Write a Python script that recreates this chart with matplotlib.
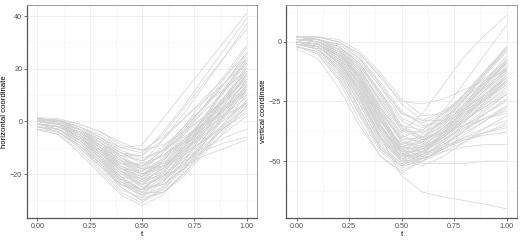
import numpy as np
import matplotlib
matplotlib.use("Agg")
import matplotlib.pyplot as plt

plt.rcParams["font.family"] = ["Liberation Sans", "DejaVu Sans"]

t = [0.0, 0.1, 0.2, 0.3, 0.4, 0.5, 0.6, 0.7, 0.8, 0.9, 1.0]

# horizontal coordinate curves
horiz = [
    [1, 0.5, -2, -6, -10, -9, 1, 11, 21, 31, 41],
    [0.5, 0, -3, -8, -13, -13, -4, 6, 17, 28, 39],
    [0, -0.5, -4, -10, -16, -16, -7, 3, 14, 25, 37],
    [1.5, 1, -1, -4, -9, -11, -6, 1, 8, 15, 22],
    [0, -1, -4, -9, -15, -17, -11, -3, 6, 15, 25],
    [-1, -2, -6, -12, -18, -19, -12, -3, 6, 15, 24],
    [-2, -3, -8, -15, -22, -24, -17, -8, 2, 12, 22],
    [-1, -2, -7, -14, -21, -23, -18, -10, -1, 8, 18],
    [0, -1, -5, -11, -17, -20, -16, -9, -2, 5, 12],
    [1, 0, -3, -8, -14, -17, -13, -7, -1, 5, 10],
    [-2, -4, -10, -18, -26, -29, -23, -13, -2, 9, 20],
    [-1, -3, -9, -17, -25, -30, -26, -17, -6, 5, 16],
    [-3, -5, -12, -20, -28, -32, -28, -19, -8, 3, 14],
    [0, -1, -6, -13, -22, -28, -26, -18, -8, 2, 12],
    [-1, -2, -6, -13, -21, -27, -27, -21, -12, -3, 6],
    [0, -1, -4, -9, -15, -18, -16, -12, -7, -2, 3],
    [0, -1, -5, -11, -18, -22, -21, -17, -13, -10, -7],
    [-1, -2, -6, -12, -19, -23, -20, -15, -11, -8, -6],
    [1, 0, -3, -8, -13, -15, -11, -6, -1, 3, 6],
    [-1, -2, -5, -11, -18, -21, -15, -7, 1, 9, 16],
    [0, -1, -4, -10, -17, -21, -16, -9, -1, 7, 15],
    [-2, -3, -7, -13, -20, -24, -21, -14, -5, 4, 13],
    [1, 0.5, -2, -6, -12, -15, -10, -2, 6, 13, 19],
    [0, -1, -5, -12, -20, -25, -21, -13, -4, 5, 14],
    [-1, -2, -7, -15, -24, -28, -22, -12, -1, 10, 21],
    [0, -1, -4, -9, -16, -20, -17, -11, -4, 3, 9],
    [-2, -4, -9, -16, -24, -27, -21, -12, -3, 6, 15],
    [1, 0, -2, -7, -13, -18, -17, -13, -7, -1, 5],
    [0, -1, -3, -7, -12, -16, -13, -7, 0, 6, 11],
    [-1, -1, -4, -10, -19, -24, -19, -10, 0, 10, 19],
    [0.5, 0, -3, -7, -12, -13, -7, 1, 9, 17, 26],
    [-1, -2, -6, -12, -20, -22, -15, -5, 5, 15, 26],
    [0, -1, -5, -11, -18, -21, -14, -4, 6, 17, 28],
    [-2, -3, -8, -16, -25, -30, -27, -20, -11, -1, 8],
    [-3, -5, -11, -19, -27, -31, -25, -15, -4, 7, 18],
    [0, -1, -4, -8, -14, -18, -17, -14, -10, -6, -3],
    [1, 0.5, -1, -4, -8, -11, -9, -4, 2, 8, 14],
    [-1, -2, -6, -13, -21, -26, -23, -16, -8, 0, 8],
    [0, -1, -5, -10, -16, -18, -12, -4, 4, 12, 20],
    [-1, -2, -5, -10, -16, -19, -14, -7, 1, 10, 18],
    [0.5, 0, -2, -5, -10, -12, -5, 5, 15, 25, 35],
    [-1, -2, -6, -13, -22, -26, -20, -11, -1, 9, 19],
    [0, -1, -4, -9, -15, -19, -15, -8, 0, 8, 16],
    [-2, -3, -7, -14, -23, -29, -27, -20, -10, 0, 10],
    [1, 0, -3, -9, -17, -22, -19, -12, -3, 6, 15],
    [-1, -2, -5, -11, -19, -24, -22, -16, -9, -2, 4],
    [0, -1, -4, -10, -18, -23, -18, -9, 2, 13, 23],
    [-1, -3, -8, -15, -23, -26, -19, -9, 2, 13, 24],
    [0, -1, -5, -11, -19, -25, -24, -18, -10, -2, 7],
    [1, 0, -2, -6, -11, -14, -11, -5, 2, 9, 17],
    [-2, -4, -10, -17, -24, -26, -20, -10, 1, 12, 23],
    [0, -1, -4, -9, -15, -17, -13, -8, -3, 2, 7],
    [-1, -2, -7, -14, -22, -26, -24, -18, -11, -4, 2],
    [-3, -4, -9, -16, -24, -28, -25, -17, -7, 3, 13],
    [0, -1, -3, -8, -14, -17, -11, -2, 8, 18, 29],
    [-1, -2, -6, -12, -19, -22, -17, -10, -2, 6, 13],
    [1, 0, -3, -8, -15, -20, -18, -11, -3, 5, 12],
    [0, -1, -6, -14, -23, -27, -23, -15, -6, 3, 11],
    [-1, -2, -6, -11, -17, -20, -17, -11, -5, 1, 7],
    [0, -1, -4, -10, -17, -20, -15, -8, 0, 8, 17],
]

# vertical coordinate curves
vert = [
    [1, 1, -3, -12, -28, -38, -30, -18, -6, 3, 11],
    [2, 2, 0, -5, -15, -25, -26, -24, -20, -16, -12],
    [0, -1, -6, -18, -33, -43, -40, -32, -22, -12, -3],
    [1, 0, -5, -15, -30, -40, -37, -30, -22, -15, -8],
    [-1, -3, -10, -24, -40, -48, -44, -36, -28, -20, -13],
    [-2, -5, -15, -30, -45, -52, -48, -42, -35, -28, -22],
    [0, -2, -8, -20, -36, -45, -42, -36, -30, -24, -18],
    [2, 1, -3, -11, -25, -37, -38, -33, -26, -19, -12],
    [1, 0, -4, -13, -28, -42, -45, -40, -33, -26, -20],
    [0, -1, -6, -17, -33, -46, -47, -43, -38, -33, -28],
    [-1, -3, -11, -26, -43, -51, -47, -41, -36, -32, -29],
    [-3, -7, -19, -35, -48, -55, -50, -44, -40, -38, -36],
    [1, 0, -4, -12, -24, -36, -40, -38, -35, -32, -30],
    [0, -1, -7, -19, -35, -47, -49, -46, -44, -43, -43],
    [1, 0, -5, -15, -31, -46, -51, -51, -51, -50, -50],
    [0, -2, -8, -22, -40, -56, -63, -65, -66.5, -68, -70],
    [2, 2, 1, -4, -13, -24, -31, -30, -24, -16, -8],
    [1, 1, -2, -9, -21, -35, -40, -35, -26, -16, -6],
    [0, -1, -5, -16, -32, -44, -42, -34, -24, -13, -2],
    [-1, -2, -8, -21, -37, -47, -45, -38, -28, -18, -8],
    [-2, -4, -13, -29, -45, -52, -47, -38, -28, -18, -9],
    [0, -1, -6, -18, -35, -47, -48, -42, -34, -25, -16],
    [1, 0, -4, -14, -30, -44, -46, -40, -31, -22, -13],
    [-1, -2, -9, -23, -40, -49, -46, -40, -33, -27, -21],
    [2, 1, -2, -9, -21, -33, -38, -34, -27, -19, -10],
    [0, -1, -6, -17, -34, -49, -52, -48, -42, -36, -31],
    [-1, -3, -11, -26, -42, -50, -49, -45, -41, -38, -35],
    [1, 0, -3, -11, -25, -39, -43, -38, -30, -22, -14],
    [0, -1, -5, -16, -33, -45, -44, -37, -27, -17, -7],
    [2, 2, 0, -6, -18, -30, -34, -30, -22, -13, -3],
    [1, 0, -4, -15, -32, -43, -39, -29, -17, -5, 7],
    [0, -1, -7, -20, -37, -46, -43, -35, -26, -17, -9],
    [-2, -5, -16, -33, -48, -54, -50, -43, -37, -32, -27],
    [1, 1, -2, -8, -19, -30, -33, -29, -23, -17, -11],
    [0, -1, -5, -14, -29, -42, -44, -39, -33, -27, -22],
    [-1, -2, -8, -21, -38, -48, -47, -44, -41, -39, -38],
    [2, 1, -1, -7, -17, -29, -35, -34, -29, -23, -17],
    [0, -2, -9, -24, -41, -50, -47, -39, -30, -21, -12],
    [1, 0, -3, -10, -22, -36, -41, -38, -31, -24, -17],
    [-1, -3, -12, -28, -44, -51, -49, -45, -40, -36, -33],
    [1, 0, -4, -13, -29, -41, -40, -33, -24, -14, -4],
    [0, -1, -6, -18, -35, -46, -45, -39, -32, -24, -16],
    [-1, -3, -10, -25, -41, -49, -46, -39, -31, -23, -15],
    [2, 1, -2, -10, -23, -37, -41, -37, -29, -20, -11],
    [0, -2, -8, -22, -39, -48, -46, -41, -35, -30, -25],
    [1, 0, -3, -12, -27, -41, -44, -40, -32, -23, -14],
    [-2, -4, -14, -31, -46, -53, -49, -41, -33, -25, -18],
    [0, -1, -5, -15, -31, -44, -45, -40, -33, -26, -19],
    [1, 1, -2, -9, -22, -35, -37, -31, -22, -12, -2],
    [0, -1, -7, -20, -37, -48, -49, -45, -39, -33, -27],
    [-1, -2, -9, -23, -40, -50, -50, -46, -42, -38, -34],
    [2, 1, -1, -7, -19, -32, -36, -32, -25, -17, -9],
    [0, -1, -6, -17, -33, -44, -41, -33, -23, -13, -4],
    [1, 0, -4, -14, -30, -45, -48, -44, -37, -30, -24],
    [-1, -3, -12, -28, -44, -52, -50, -44, -37, -30, -24],
    [0, -1, -5, -16, -33, -46, -46, -40, -32, -24, -15],
    [1, 0, -3, -11, -26, -40, -42, -36, -27, -18, -9],
    [0, -2, -8, -21, -38, -49, -48, -43, -36, -29, -22],
    [2, 2, 0, -5, -14, -26, -33, -33, -28, -22, -15],
    [-1, -2, -7, -19, -36, -47, -45, -38, -29, -20, -11],
]

xticks = [0.0, 0.25, 0.5, 0.75, 1.0]
xlabels = ["0.00", "0.25", "0.50", "0.75", "1.00"]


def style_panel(ax, ylabel, yticks, ylim):
    ax.set_xticks(xticks)
    ax.set_xticklabels(xlabels)
    ax.set_xticks([0.125, 0.375, 0.625, 0.875], minor=True)
    ax.set_yticks(yticks)
    ys = np.array(yticks, dtype=float)
    step = ys[1] - ys[0]
    minor = [ys[0] - step / 2] + list(ys + step / 2)
    ax.set_yticks(minor, minor=True)
    ax.set_xlim(-0.05, 1.05)
    ax.set_ylim(*ylim)
    ax.grid(True, which="major", color="#ebebeb", lw=0.6, zorder=0)
    ax.grid(True, which="minor", color="#f4f4f4", lw=0.4, zorder=0)
    ax.set_axisbelow(True)
    ax.tick_params(which="minor", length=0)
    ax.tick_params(which="major", length=2.2, width=0.5, color="#333333",
                   labelsize=5.2, labelcolor="#4d4d4d", pad=1.2)
    for s in ["top", "right"]:
        ax.spines[s].set_color("#999999")
        ax.spines[s].set_linewidth(0.7)
    for s in ["left", "bottom"]:
        ax.spines[s].set_color("#555555")
        ax.spines[s].set_linewidth(0.9)
    ax.set_xlabel("t", fontsize=5.6, labelpad=0.8)
    ax.set_ylabel(ylabel, fontsize=5.6, labelpad=1.5)


fig = plt.figure(figsize=(5.2, 2.4), dpi=100)
ax1 = fig.add_axes([27 / 520, 22 / 240, 230 / 520, 213 / 240])
ax2 = fig.add_axes([286 / 520, 22 / 240, 231 / 520, 213 / 240])

for c in horiz:
    ax1.plot(t, c, color="#d3d3d3", lw=0.5, zorder=2)
for c in vert:
    ax2.plot(t, c, color="#d3d3d3", lw=0.5, zorder=2)

style_panel(ax1, "horizontal coordinate", [-20, 0, 20, 40], (-36.7, 44.2))
style_panel(ax2, "vertical coordinate", [-50, -25, 0], (-73.8, 15.4))

fig.savefig("out.png", dpi=100)
